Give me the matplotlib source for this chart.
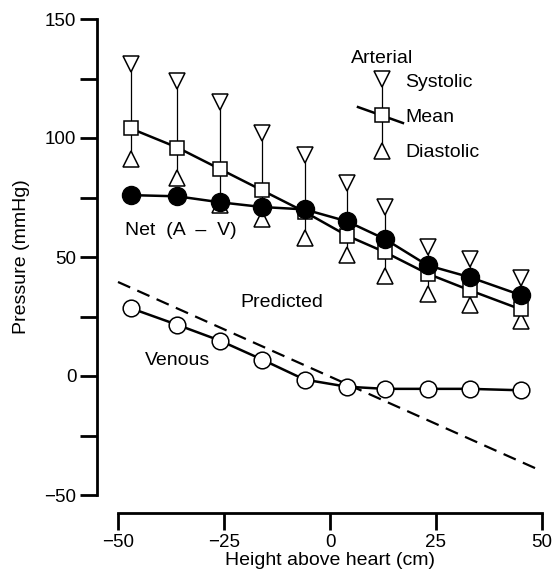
import matplotlib
matplotlib.use('Agg')
from matplotlib import pyplot as plt

plt.rcParams['font.family'] = ['Liberation Sans', 'DejaVu Sans']

# data
height = [-47, -36, -26, -16, -6, 4, 13, 23, 33, 45]
systolic = [131, 124, 115, 102, 93, 81, 71, 54, 49, 41]
mean = [104, 96, 87, 78, 69, 59, 52, 43, 36, 28]
diastolic = [91, 83, 72, 66, 58, 51, 42, 34.5, 30, 23]
net = [76, 75.5, 73, 71, 70, 65, 57.5, 46.5, 41.5, 34]
venous = [28.5, 21.5, 14.9, 6.9, -1.5, -4.5, -5.4, -5.4, -5.4, -6]
pred_x = [-50, 50]
pred_y = [39.5, -40]

fig = plt.figure(figsize=(5.52, 5.83), dpi=100)
ax = fig.add_axes([118 / 552, 88 / 583, 424 / 552, 476 / 583])

# error bars systolic-diastolic
for x, s, d in zip(height, systolic, diastolic):
    ax.plot([x, x], [d, s], color='black', lw=0.9, zorder=1, clip_on=False)
ax.plot(height, systolic, 'v', ms=11.5, mfc='white', mec='black', mew=1.1, zorder=2, clip_on=False)
ax.plot(height, diastolic, '^', ms=11.5, mfc='white', mec='black', mew=1.1, zorder=2, clip_on=False)

# predicted and venous
ax.plot(pred_x, pred_y, '--', color='black', lw=1.6, dashes=(6, 3.5), zorder=2, clip_on=False)
ax.plot(height, venous, '-o', color='black', lw=1.8, ms=12, mfc='white', mec='black',
        mew=1.1, zorder=3, clip_on=False)

# mean arterial and net
ax.plot(height, mean, '-s', color='black', lw=1.8, ms=10.5, mfc='white', mec='black',
        mew=1.1, zorder=3, clip_on=False)
ax.plot(height, net, '-o', color='black', lw=1.8, ms=13, mfc='black', mec='black',
        zorder=4, clip_on=False)

# arterial legend glyph
ax.plot([12.3, 12.3], [94.5, 124.8], color='black', lw=0.9, zorder=1)
ax.plot([6.6, 17.2], [113, 106.3], color='black', lw=1.8, zorder=2)
ax.plot(12.3, 124.8, 'v', ms=11.5, mfc='white', mec='black', mew=1.1, zorder=3)
ax.plot(12.3, 94.5, '^', ms=11.5, mfc='white', mec='black', mew=1.1, zorder=3)
ax.plot(12.3, 109.7, 's', ms=10.5, mfc='white', mec='black', mew=1.1, zorder=3)

fs = 14
ax.text(5, 133.6, 'Arterial', fontsize=fs, va='center', ha='left')
ax.text(17.7, 123.5, 'Systolic', fontsize=fs, va='center', ha='left')
ax.text(17.7, 108.8, 'Mean', fontsize=fs, va='center', ha='left')
ax.text(17.7, 94, 'Diastolic', fontsize=fs, va='center', ha='left')
ax.text(-48.3, 61.3, 'Net  (A  \u2013  V)', fontsize=fs, va='center', ha='left')
ax.text(-21.2, 31, 'Predicted', fontsize=fs, va='center', ha='left')
ax.text(-43.6, 6.7, 'Venous', fontsize=fs, va='center', ha='left')

ax.set_xlim(-50, 50)
ax.set_ylim(-50, 150)
ax.set_xticks([-50, -25, 0, 25, 50])
ax.set_xticklabels(['\u221250', '\u221225', '0', '25', '50'])
ax.set_yticks([-50, -25, 0, 25, 50, 75, 100, 125, 150])
ax.set_yticklabels(['\u221250', '', '0', '', '50', '', '100', '', '150'])

for side in ['top', 'right']:
    ax.spines[side].set_visible(False)
ax.spines['left'].set_position(('outward', 15))
ax.spines['bottom'].set_position(('outward', 13))
ax.spines['left'].set_linewidth(2)
ax.spines['bottom'].set_linewidth(2)
ax.tick_params(direction='out', length=12, width=2, labelsize=13.5, pad=3)

ax.set_xlabel('Height above heart (cm)', fontsize=fs, labelpad=1)
ax.set_ylabel('Pressure (mmHg)', fontsize=fs, labelpad=10)

plt.savefig('out.png', dpi=100)
